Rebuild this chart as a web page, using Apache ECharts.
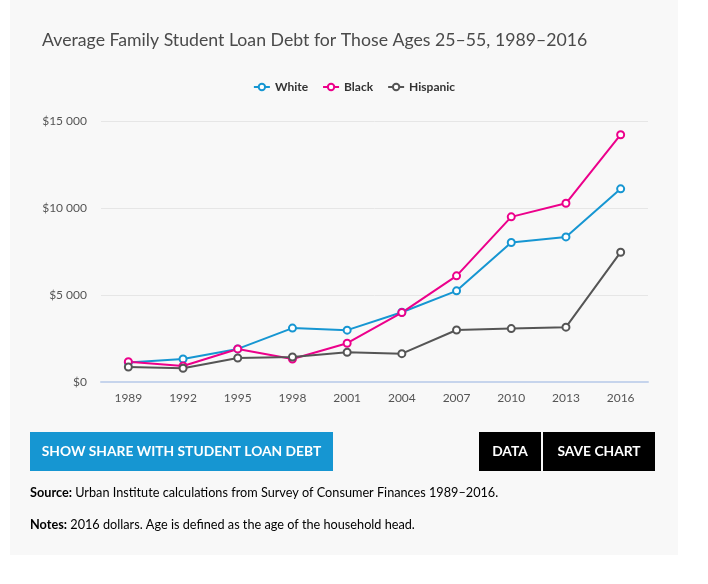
<!DOCTYPE html>
<html>
<head>
<meta charset="utf-8">
<script src="https://cdn.jsdelivr.net/npm/echarts@6/dist/echarts.min.js"></script>
<style>
  html, body { margin: 0; padding: 0; background: #fff; }
  #chart { width: 708px; height: 584px; }
</style>
</head>
<body>
<div id="chart"></div>
<script>
'use strict';
var years = ['1989', '1992', '1995', '1998', '2001', '2004', '2007', '2010', '2013', '2016'];
var white = [1120, 1320, 1900, 3100, 2980, 4010, 5240, 8020, 8340, 11100];
var black = [1170, 920, 1900, 1320, 2230, 3990, 6100, 9490, 10270, 14210];
var hispanic = [860, 790, 1380, 1440, 1710, 1630, 2990, 3070, 3150, 7460];
var yTicks = [0, 5000, 10000, 15000];

var font = 'Lato, "Open Sans", sans-serif';
var chart = echarts.init(document.getElementById('chart'));

function money(v) {
	var s = String(v).replace(/\B(?=(\d{3})+(?!\d))/g, ' ');
	return '$' + s;
}

function lineSeries(name, data, color) {
	return {
		name: name,
		type: 'line',
		data: data,
		symbol: 'emptyCircle',
		symbolSize: 7,
		lineStyle: { width: 2, color: color },
		itemStyle: { color: color, borderWidth: 2 },
		emphasis: { disabled: true }
	};
}

var option = {
	backgroundColor: '#fff',
	textStyle: { fontFamily: font },
	animation: false,
	title: {
		text: 'Average Family Student Loan Debt for Those Ages 25–55, 1989–2016',
		left: 37,
		top: 26,
		textStyle: { fontSize: 17.7, fontWeight: 'normal', color: '#4a4a4a', fontFamily: font }
	},
	legend: {
		top: 76,
		left: 'center',
		itemWidth: 16,
		itemHeight: 8,
		itemGap: 14,
		textStyle: { fontSize: 12, fontWeight: 'bold', color: '#333', fontFamily: font },
		data: ['White', 'Black', 'Hispanic']
	},
	grid: { left: 101, right: 60, top: 121, bottom: 202 },
	xAxis: {
		type: 'category',
		data: years,
		boundaryGap: true,
		axisLine: { lineStyle: { color: '#c6d4ec', width: 2 } },
		axisTick: { alignWithLabel: true, length: 7, lineStyle: { color: '#c6d4ec', width: 1 } },
		axisLabel: { color: '#555', fontSize: 12, margin: 10, fontFamily: font }
	},
	yAxis: {
		type: 'value',
		min: 0,
		max: yTicks[yTicks.length - 1],
		interval: yTicks[1] - yTicks[0],
		axisLine: { show: false },
		axisTick: { show: false },
		splitLine: { lineStyle: { color: '#e6e6e6', width: 1 } },
		axisLabel: { color: '#555', fontSize: 12, margin: 14, formatter: money, fontFamily: font }
	},
	series: [
		lineSeries('White', white, '#1696d2'),
		lineSeries('Black', black, '#ec008b'),
		lineSeries('Hispanic', hispanic, '#555555')
	],
	graphic: [
		{
			type: 'rect', z: -10, silent: true,
			shape: { x: 10, y: 0, width: 668, height: 555 },
			style: { fill: '#f8f8f8' }
		},
		{
			type: 'rect',
			shape: { x: 30, y: 432, width: 303, height: 39 },
			style: { fill: '#1696d2' },
			textContent: {
				style: { text: 'SHOW SHARE WITH STUDENT LOAN DEBT', fill: '#fff', font: 'bold 13.8px ' + font }
			},
			textConfig: { position: 'inside' }
		},
		{
			type: 'rect',
			shape: { x: 479, y: 432, width: 62, height: 39 },
			style: { fill: '#000' },
			textContent: {
				style: { text: 'DATA', fill: '#fff', font: 'bold 13.8px ' + font }
			},
			textConfig: { position: 'inside' }
		},
		{
			type: 'rect',
			shape: { x: 543, y: 432, width: 112, height: 39 },
			style: { fill: '#000' },
			textContent: {
				style: { text: 'SAVE CHART', fill: '#fff', font: 'bold 13.8px ' + font }
			},
			textConfig: { position: 'inside' }
		},
		{
			type: 'text', left: 30, top: 486,
			style: {
				text: '{b|Source:} Urban Institute calculations from Survey of Consumer Finances 1989–2016.',
				fill: '#000', font: '12.7px ' + font,
				rich: { b: { fontWeight: 'bold', fontSize: 12.7, fontFamily: font, fill: '#000' } }
			}
		},
		{
			type: 'text', left: 30, top: 518,
			style: {
				text: '{b|Notes:} 2016 dollars. Age is defined as the age of the household head.',
				fill: '#000', font: '12.7px ' + font,
				rich: { b: { fontWeight: 'bold', fontSize: 12.7, fontFamily: font, fill: '#000' } }
			}
		}
	]
};
chart.setOption(option);
</script>
</body>
</html>
